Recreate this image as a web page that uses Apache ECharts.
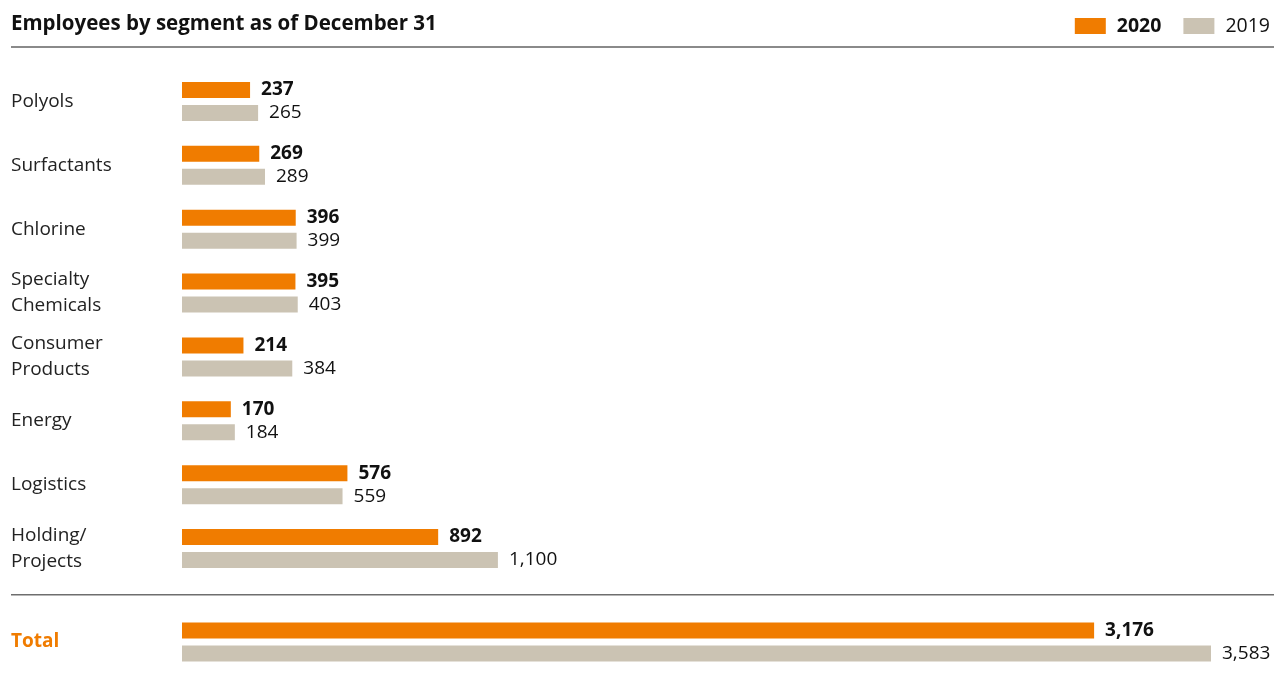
<!DOCTYPE html>
<html>
<head>
<meta charset="utf-8">
<title>Employees by segment</title>
<script src="https://cdn.jsdelivr.net/npm/echarts@6/dist/echarts.min.js"></script>
<style>
  html, body { margin: 0; padding: 0; background: #fff; }
  #chart { width: 1274px; height: 684px; }
</style>
</head>
<body>
<div id="chart"></div>
<script>
// segments, top to bottom
const segments = ['Polyols', 'Surfactants', 'Chlorine', 'Specialty\nChemicals', 'Consumer\nProducts', 'Energy', 'Logistics', 'Holding/\nProjects']
const values2020 = [237, 269, 396, 395, 214, 170, 576, 892]
const values2019 = [265, 289, 399, 403, 384, 184, 559, 1100]

const totalLabel = ['Total']
const total2020 = [3176]
const total2019 = [3583]

const ORANGE = '#f07c00'
const BEIGE = '#cbc3b3'
const FONT = '"Open Sans", "Noto Sans", sans-serif'

// same scale in both panels
const axisMax = Math.max(...values2019, ...values2020, ...total2019, ...total2020)

const fmt = (p) => p.value.toLocaleString('en-US')

const chart = echarts.init(document.getElementById('chart'))

const barSeries = (name, data, color, bold, idx) => ({
  name,
  type: 'bar',
  xAxisIndex: idx,
  yAxisIndex: idx,
  data,
  barWidth: 16,
  barGap: '44%',
  itemStyle: { color },
  silent: true,
  label: {
    show: true,
    position: 'right',
    distance: 11,
    formatter: fmt,
    fontFamily: FONT,
    fontSize: 19,
    fontWeight: bold ? 'bold' : 'normal',
    color: '#111'
  }
})

const valueAxis = (idx) => ({
  type: 'value',
  gridIndex: idx,
  min: 0,
  max: axisMax,
  show: false
})

const catAxis = (idx, data, labelStyle) => ({
  type: 'category',
  gridIndex: idx,
  data,
  inverse: true,
  axisLine: { show: false },
  axisTick: { show: false },
  axisLabel: Object.assign({
    align: 'left',
    margin: 171,
    padding: [4, 0, 0, 0],
    fontFamily: FONT,
    fontSize: 19,
    lineHeight: 26,
    color: '#222'
  }, labelStyle)
})

const option = {
  animation: false,
  textStyle: { fontFamily: FONT },
  title: {
    text: 'Employees by segment as of December 31',
    left: 11,
    top: 14,
    padding: 0,
    textStyle: { fontFamily: FONT, fontSize: 20.5, fontWeight: 'bold', color: '#111' }
  },
  legend: {
    right: 4,
    top: 16,
    padding: 0,
    itemWidth: 31,
    itemHeight: 16,
    itemGap: 22,
    icon: 'rect',
    data: [
      { name: '2020', textStyle: { fontWeight: 'bold' } },
      { name: '2019' }
    ],
    textStyle: { fontFamily: FONT, fontSize: 19.5, color: '#111', padding: [0, 0, 0, 6] }
  },
  graphic: [
    { type: 'rect', shape: { x: 11, y: 46, width: 1263, height: 2 }, style: { fill: '#8a8a8a' } },
    { type: 'rect', shape: { x: 11, y: 594, width: 1263, height: 1.5 }, style: { fill: '#6e6e6e' } }
  ],
  grid: [
    { left: 182, right: 63, top: 69.5, height: 511 },
    { left: 182, right: 63, top: 610, height: 64 }
  ],
  xAxis: [valueAxis(0), valueAxis(1)],
  yAxis: [
    catAxis(0, segments, {}),
    catAxis(1, totalLabel, { color: ORANGE, fontWeight: 'bold' })
  ],
  series: [
    barSeries('2020', values2020, ORANGE, true, 0),
    barSeries('2019', values2019, BEIGE, false, 0),
    barSeries('2020', total2020, ORANGE, true, 1),
    barSeries('2019', total2019, BEIGE, false, 1)
  ]
}

chart.setOption(option)
</script>
</body>
</html>
